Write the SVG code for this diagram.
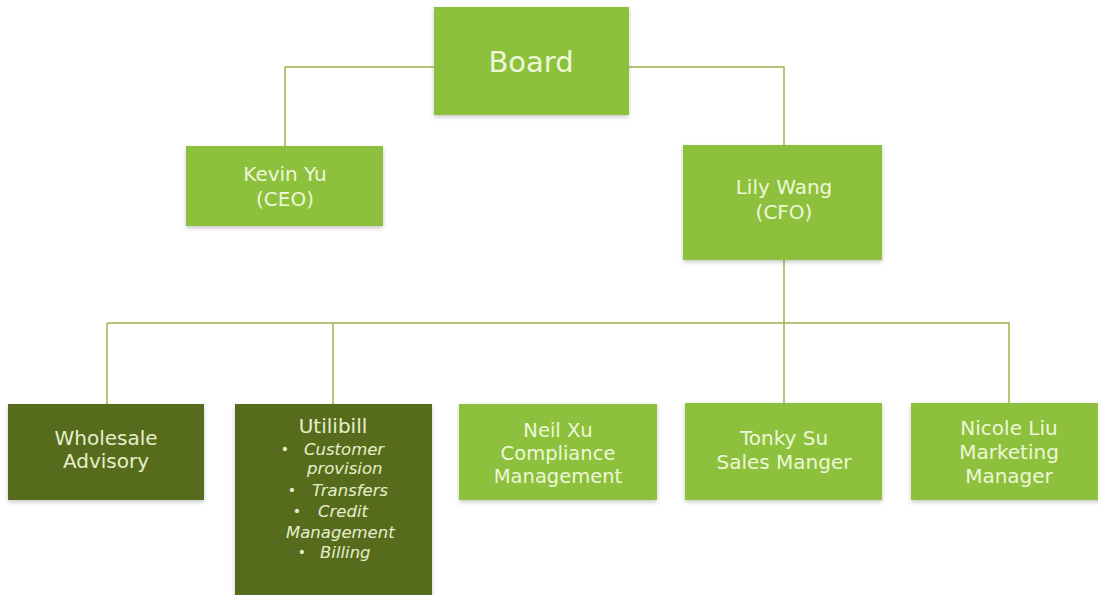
<svg xmlns="http://www.w3.org/2000/svg" width="1098" height="595" viewBox="0 0 1098 595">
<defs>
<filter id="sh" x="-10%" y="-10%" width="120%" height="130%">
<feDropShadow dx="0" dy="2" stdDeviation="2" flood-color="#000" flood-opacity="0.22"/>
</filter>
</defs>
<style>
.lite{fill:#8cc03c;filter:url(#sh)}
.dark{fill:#566c1a;filter:url(#sh)}
.t{font-family:"DejaVu Sans","Liberation Sans",sans-serif;font-size:20px;fill:#eef8d8;text-anchor:middle}
.td{fill:#e6efcc}
.it{font-style:italic;font-size:16.5px;text-anchor:start}
.b{font-size:14px}
.s{font-size:19.5px}
.c{fill:none;stroke:#9db54a;stroke-width:1.5}
</style>
<rect width="1098" height="595" fill="#ffffff"/>
<g id="connectors">
<path class="c" d="M434 67 H285 V146"/>
<path class="c" d="M629 67 H784 V145"/>
<path class="c" d="M784 260 V403"/>
<path class="c" d="M107 323 H1009 V403"/>
<path class="c" d="M107 323 V404"/>
<path class="c" d="M333 323 V404"/>
</g>
<g id="board">
<rect class="lite" x="434" y="7" width="195" height="108"/>
<text class="t" x="531" y="72" style="font-size:29px">Board</text>
</g>
<g id="kevin">
<rect class="lite" x="186" y="146" width="197" height="80"/>
<text class="t" x="285" y="181">Kevin Yu</text>
<text class="t" x="285" y="206">(CEO)</text>
</g>
<g id="lily">
<rect class="lite" x="683" y="145" width="199" height="115"/>
<text class="t" x="784" y="194">Lily Wang</text>
<text class="t" x="784" y="219">(CFO)</text>
</g>
<g id="wholesale">
<rect class="dark" x="8" y="404" width="196" height="96"/>
<text class="t td" x="106" y="445">Wholesale</text>
<text class="t td" x="106" y="468">Advisory</text>
</g>
<g id="utilibill">
<rect class="dark" x="235" y="404" width="197" height="195"/>
<text class="t td" x="333" y="433">Utilibill</text>
<text class="t td b" x="285" y="454">•</text>
<text class="t td it" x="304" y="455">Customer</text>
<text class="t td it" x="307" y="474">provision</text>
<text class="t td b" x="292" y="495">•</text>
<text class="t td it" x="312" y="496">Transfers</text>
<text class="t td b" x="297" y="516">•</text>
<text class="t td it" x="318" y="517">Credit</text>
<text class="t td it" x="286" y="538">Management</text>
<text class="t td b" x="302" y="557">•</text>
<text class="t td it" x="320" y="558">Billing</text>
</g>
<g id="neil">
<rect class="lite" x="459" y="404" width="198" height="96"/>
<text class="t s" x="558" y="437">Neil Xu</text>
<text class="t s" x="558" y="460">Compliance</text>
<text class="t s" x="558" y="483">Management</text>
</g>
<g id="tonky">
<rect class="lite" x="685" y="403" width="197" height="97"/>
<text class="t" x="784" y="445">Tonky Su</text>
<text class="t" x="784" y="469">Sales Manger</text>
</g>
<g id="nicole">
<rect class="lite" x="911" y="403" width="190" height="97"/>
<text class="t" x="1009" y="435">Nicole Liu</text>
<text class="t" x="1009" y="459">Marketing</text>
<text class="t" x="1009" y="483">Manager</text>
</g>
</svg>
